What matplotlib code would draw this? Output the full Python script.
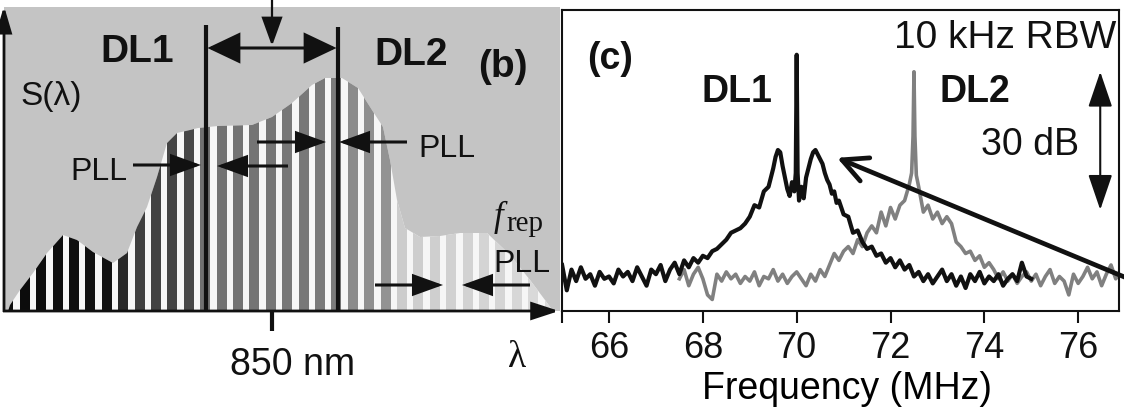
import numpy as np
import matplotlib
matplotlib.use("Agg")
import matplotlib.pyplot as plt
from matplotlib.patches import Polygon, FancyArrowPatch

plt.rcParams['font.family'] = ['Liberation Sans', 'DejaVu Sans']

W, H = 1124, 411

# ---------------- panel (b): optical comb sketch ----------------
# spectral envelope S(lambda) in sketch units (position along lambda, height above axis)
envelope_x = [8, 10, 20, 33, 47, 63, 77, 93, 113, 127, 137, 147, 157, 167, 177, 190, 198, 218, 252,
              272, 292, 312, 325, 342, 358, 372, 383, 390, 397, 405, 420, 440, 460, 487, 510, 530, 545, 553]
envelope_s = [0, 6, 21, 38, 58, 76, 71, 59, 48, 58, 84, 104, 134, 168, 178, 181, 183, 185, 186,
              194, 208, 226, 233, 233, 223, 201, 184, 151, 111, 83, 74, 75, 78, 78, 56, 31, 11, 0]

# comb teeth
tooth_first = 8.4
tooth_pitch = 16.4
n_teeth = 34
tooth_width = 10.0

# shade of the teeth along the spectrum (0 = black, 1 = white)
shade_x = [0, 118, 128, 192, 200, 335, 345, 392, 402, 560]
shade_v = [0.04, 0.07, 0.24, 0.28, 0.44, 0.48, 0.54, 0.58, 0.80, 0.86]

# ---------------- panel (c): beat-note spectra ----------------
dl1_freq = [65.0, 65.1, 65.2, 65.3, 65.4, 65.5, 65.6, 65.7, 65.8, 65.9,
            66.0, 66.1, 66.2, 66.3, 66.4, 66.5, 66.6, 66.7, 66.8, 66.9,
            67.0, 67.1, 67.2, 67.3, 67.4, 67.5, 67.6, 67.7, 67.8, 67.9,
            68.0, 68.1, 68.2, 68.3, 68.4, 68.5, 68.6, 68.7, 68.8, 68.9,
            69.0, 69.1, 69.2, 69.3, 69.4, 69.5, 69.55, 69.6, 69.65, 69.7,
            69.75, 69.8, 69.85, 69.9, 69.95, 69.98, 70.0, 70.02, 70.05, 70.1,
            70.15, 70.2, 70.25, 70.3, 70.35, 70.4, 70.45, 70.5, 70.55, 70.6,
            70.65, 70.7, 70.75, 70.8, 70.85, 70.9, 71.0, 71.1, 71.2, 71.3,
            71.4, 71.5, 71.6, 71.7, 71.8, 71.9, 72.0, 72.1, 72.2, 72.3,
            72.4, 72.5, 72.6, 72.7, 72.8, 72.9, 73.0, 73.1, 73.2, 73.3,
            73.4, 73.5, 73.6, 73.7, 73.8, 73.9, 74.0, 74.1, 74.2, 74.3,
            74.4, 74.5, 74.6, 74.7, 74.8, 74.9, 75.0]
dl1_level = [-70.0, -75.5, -71.0, -73.5, -70.5, -73.0, -72.0, -74.5, -71.5, -73.0,
             -72.5, -74.0, -71.0, -72.5, -71.5, -73.5, -70.5, -72.5, -74.5, -71.0,
             -72.0, -70.0, -73.5, -71.0, -69.5, -72.0, -69.0, -70.5, -68.5, -69.5,
             -68.0, -68.5, -67.0, -66.5, -65.5, -64.5, -63.0, -62.5, -62.0, -61.0,
             -59.5, -57.0, -57.5, -54.0, -53.0, -49.0, -46.5, -45.0, -45.5, -48.5,
             -51.0, -53.5, -55.0, -52.0, -54.0, -50.0, -24.3, -50.0, -56.0, -53.0,
             -55.5, -51.0, -49.0, -47.0, -45.5, -45.0, -46.0, -47.0, -48.0, -50.0,
             -51.5, -52.5, -54.5, -54.0, -56.5, -56.0, -59.0, -59.5, -63.0, -62.5,
             -65.0, -66.5, -66.0, -68.0, -67.5, -69.5, -68.5, -70.5, -69.0, -71.0,
             -70.0, -72.5, -71.5, -73.5, -72.0, -74.0, -72.5, -71.0, -73.5, -72.0,
             -74.5, -72.5, -75.0, -72.0, -73.5, -71.5, -74.0, -72.5, -73.5, -72.0,
             -74.5, -73.0, -72.0, -73.5, -69.5, -72.5, -73.0]

dl2_freq = list(np.round(np.arange(67.5, 72.41, 0.1), 2)) + [72.45, 72.48, 72.5, 72.52, 72.55] + \
           list(np.round(np.arange(72.6, 76.91, 0.1), 2))
dl2_level = [-73.0, -71.0, -74.5, -72.0, -70.5, -73.0, -76.5, -77.5, -72.0, -73.5,
             -71.5, -73.0, -72.0, -74.0, -72.5, -73.5, -71.5, -74.5, -72.5, -73.0,
             -71.0, -73.5, -72.0, -74.0, -72.5, -71.5, -73.0, -74.5, -72.0, -73.5,
             -71.0, -72.5, -70.0, -67.5, -69.0, -67.0, -66.0, -67.5, -64.5, -66.0,
             -63.0, -61.5, -63.0, -58.5, -61.5, -57.5, -60.0, -57.0, -56.0, -52.5,
             -50.0, -42.0, -28.0, -42.0, -50.5,
             -53.0, -58.5, -57.0, -60.0, -58.5, -61.0, -59.5, -61.0, -65.0, -66.0,
             -67.5, -67.0, -69.0, -68.0, -70.5, -69.5, -71.0, -73.0, -71.5, -73.5,
             -72.0, -74.0, -72.5, -71.5, -73.5, -72.0, -74.5, -72.5, -71.0, -74.0,
             -72.5, -73.5, -76.5, -72.0, -74.0, -72.5, -70.5, -73.0, -71.5, -74.5,
             -72.0, -70.0, -73.0, -71.5]

freq_ticks = [66, 68, 70, 72, 74, 76]
freq_lim = (65.0, 76.87)
level_lim = (-80.0, -14.57)
scale_top, scale_bottom = -28.0, -58.0      # 30 dB scale bar

assert len(dl1_freq) == len(dl1_level) and len(dl2_freq) == len(dl2_level)

fig = plt.figure(figsize=(W / 100, H / 100), dpi=100)
fig.patch.set_facecolor('white')


def fx(x):
    return x / W


def fy(y):
    return 1 - y / H


# ---- panel (b) ----
b_left, b_right, b_top, b_bottom = 4, 560, 7, 311
axb = fig.add_axes([fx(b_left), fy(b_bottom), (b_right - b_left) / W, (b_bottom - b_top) / H])
axb.set_xlim(b_left, b_right)
axb.set_ylim(0, b_bottom - b_top)
axb.set_facecolor('#c4c4c4')
axb.set_xticks([])
axb.set_yticks([])
for s in axb.spines.values():
    s.set_visible(False)

env = Polygon(np.column_stack([envelope_x, envelope_s]), closed=True,
              facecolor='#f6f6f6', edgecolor='none', zorder=1)
axb.add_patch(env)
tooth_x = tooth_first + tooth_pitch * np.arange(n_teeth)
shade = np.interp(tooth_x, shade_x, shade_v)
bars = axb.bar(tooth_x, b_bottom - b_top, width=tooth_width, bottom=0,
               color=[str(round(v, 3)) for v in shade], linewidth=0, zorder=2)
for p in bars:
    p.set_clip_path(env)

# ---- panel (c) ----
c_left = 562.1
c_right = 1119
c_top, c_bottom = 10, 311
axc = fig.add_axes([fx(c_left), fy(c_bottom), (c_right - c_left) / W, (c_bottom - c_top) / H])
axc.set_xlim(*freq_lim)
axc.set_ylim(*level_lim)
axc.plot(dl2_freq, dl2_level, color='#808080', lw=2.6, zorder=2)
axc.plot(dl1_freq, dl1_level, color='#111111', lw=3.0, zorder=3)
axc.set_xticks(freq_ticks)
axc.set_xticklabels([str(t) for t in freq_ticks])
axc.set_xticks([65], minor=True)
axc.set_yticks([])
axc.tick_params(axis='x', which='both', direction='out', length=8.6, width=1.5,
                pad=6, labelsize=26, colors='#111111')
for s in axc.spines.values():
    s.set_linewidth(1.5)
    s.set_color('#111111')
axc.set_xlabel('Frequency (MHz)', fontsize=27, va='top')
axc.xaxis.set_label_coords((847 - c_left) / (c_right - c_left), (c_bottom - 371) / (c_bottom - c_top))

# 30 dB scale bar
axc.add_patch(FancyArrowPatch((76.47, scale_top), (76.47, scale_bottom),
                              arrowstyle='<|-|>,head_length=2.2,head_width=0.75', mutation_scale=10,
                              lw=1.5, color='#111111', shrinkA=0, shrinkB=0, zorder=4))
# pointer to the DL1 beat note
axc.annotate('', xy=(70.86, -46.7), xytext=(77.22, -73.6), annotation_clip=False,
             arrowprops=dict(arrowstyle='->,head_length=0.9,head_width=0.45', mutation_scale=20,
                             lw=3.4, color='#111111', shrinkA=0, shrinkB=0, clip_on=False))

# ---- overlay for sketch annotations ----
ax0 = fig.add_axes([0, 0, 1, 1], facecolor='none', zorder=5)
ax0.set_xlim(0, W)
ax0.set_ylim(H, 0)
ax0.axis('off')


def arrow(p0, p1, hl, hw, lw, style='-|>'):
    ax0.add_patch(FancyArrowPatch(p0, p1, arrowstyle=f'{style},head_length={hl},head_width={hw}',
                                  mutation_scale=10, lw=lw, color='#111111', shrinkA=0, shrinkB=0,
                                  joinstyle='miter', capstyle='butt'))


# axes of the sketch
arrow((4, 312), (4, 6), 1.6, 0.47, 2.0)
arrow((3, 311), (559, 311), 1.65, 0.54, 2.0)
ax0.plot([272, 272], [311, 331], color='#111111', lw=3, solid_capstyle='butt')

# locked diode lasers
ax0.plot([206, 206], [25, 311], color='#111111', lw=3, solid_capstyle='butt')
ax0.plot([338, 338], [27, 311], color='#111111', lw=3, solid_capstyle='butt')
arrow((207.5, 48), (336.5, 48), 2.0, 0.95, 2.2, style='<|-|>')
arrow((272, 0), (272, 46), 1.8, 0.65, 1.6)

# PLL arrows
arrow((133, 165), (201, 165), 1.8, 0.65, 2.2)
arrow((288, 166), (217, 166), 1.8, 0.65, 2.2)
arrow((257, 142), (326, 142), 1.8, 0.65, 2.2)
arrow((407, 142), (339, 142), 1.8, 0.65, 2.2)
arrow((375, 285), (443, 285), 1.8, 0.65, 2.2)
arrow((530, 285), (462, 285), 1.8, 0.65, 2.2)

ink = '#111111'
ax0.text(137, 62, 'DL1', fontsize=28, fontweight='bold', ha='center', va='baseline', color=ink)
ax0.text(411, 65, 'DL2', fontsize=28, fontweight='bold', ha='center', va='baseline', color=ink)
ax0.text(503, 77, '(b)', fontsize=28, fontweight='bold', ha='center', va='baseline', color=ink)
ax0.text(51, 105, 'S(λ)', fontsize=24, ha='center', va='baseline', color=ink)
ax0.text(99, 180, 'PLL', fontsize=23, ha='center', va='baseline', color=ink)
ax0.text(447, 157, 'PLL', fontsize=23, ha='center', va='baseline', color=ink)
ax0.text(498, 226, 'f', fontsize=25, family='Liberation Serif', style='italic',
         ha='center', va='baseline', color=ink)
ax0.text(525, 231, 'rep', fontsize=21, family='Liberation Serif', ha='center', va='baseline', color=ink)
ax0.text(522, 272, 'PLL', fontsize=23, ha='center', va='baseline', color=ink)
ax0.text(293, 375, '850 nm', fontsize=27, ha='center', va='baseline', color=ink)
ax0.text(517, 367, 'λ', fontsize=27, family='Liberation Serif', ha='center', va='baseline', color=ink)

ax0.text(610, 69, '(c)', fontsize=27, fontweight='bold', ha='center', va='baseline', color=ink)
ax0.text(1116, 48, '10 kHz RBW', fontsize=28, ha='right', va='baseline', color=ink)
ax0.text(737, 102, 'DL1', fontsize=27, fontweight='bold', ha='center', va='baseline', color=ink)
ax0.text(975, 102, 'DL2', fontsize=27, fontweight='bold', ha='center', va='baseline', color=ink)
ax0.text(1030, 155, '30 dB', fontsize=27, ha='center', va='baseline', color=ink)

fig.savefig('out.png', dpi=100, facecolor='white')
